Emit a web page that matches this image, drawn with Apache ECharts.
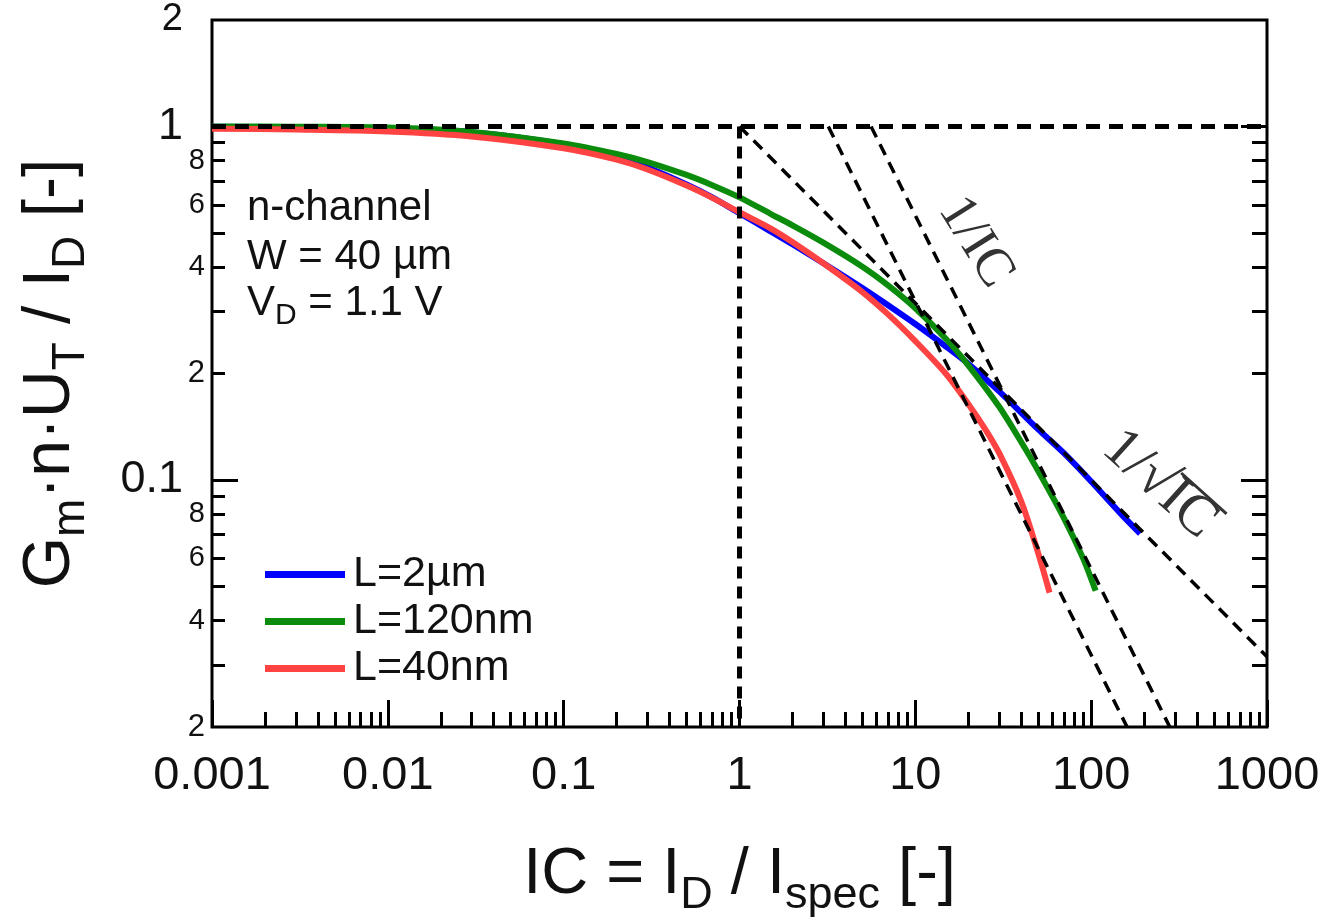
<!DOCTYPE html>
<html><head><meta charset="utf-8">
<script src="https://cdn.jsdelivr.net/npm/echarts@6/dist/echarts.min.js"></script>
<style>html,body{margin:0;padding:0;background:#fff}#c{width:1325px;height:923px}</style>
</head><body><div id="c"></div>
<script>
// ---- axis ticks / labels ----
const xTickLabels = [0.001, 0.01, 0.1, 1, 10, 100, 1000];
const xMinorTicks = [0.002,0.003,0.004,0.005,0.006,0.007,0.008,0.009,
                     0.02,0.03,0.04,0.05,0.06,0.07,0.08,0.09,
                     0.2,0.3,0.4,0.5,0.6,0.7,0.8,0.9,
                     2,3,4,5,6,7,8,9,
                     20,30,40,50,60,70,80,90,
                     200,300,400,500,600,700,800,900];
const yTickLabels = [0.02, 0.04, 0.06, 0.08, 0.1, 0.2, 0.4, 0.6, 0.8, 1, 2];
const yMajorTicks = [0.1, 1];
const yMinorTicks = [0.03,0.04,0.05,0.06,0.07,0.08,0.09,0.2,0.3,0.4,0.5,0.6,0.7,0.8,0.9];

// ---- series data (IC, Gm*n*UT/ID) ----
const seriesNames = ['L=2µm', 'L=120nm', 'L=40nm'];
const blueIC = [0.001, 0.003, 0.01, 0.03, 0.1, 0.2, 0.3, 0.5, 0.7, 1, 1.5, 2, 3, 5, 7, 10, 15, 20, 30, 50, 70, 100, 150, 190];
const blueG  = [0.998, 0.995, 0.987, 0.963, 0.890, 0.815, 0.765, 0.685, 0.630, 0.568, 0.505, 0.464, 0.410, 0.349, 0.312, 0.276, 0.238, 0.213, 0.178, 0.139, 0.119, 0.099, 0.0795, 0.0705];
const greenIC = [0.001, 0.003, 0.01, 0.03, 0.1, 0.2, 0.3, 0.5, 0.7, 1, 1.5, 2, 3, 5, 7, 10, 15, 20, 30, 40, 50, 70, 90, 106];
const greenG  = [1.0, 0.998, 0.993, 0.965, 0.895, 0.836, 0.793, 0.729, 0.682, 0.630, 0.566, 0.525, 0.469, 0.401, 0.355, 0.306, 0.250, 0.211, 0.161, 0.128, 0.106, 0.078, 0.060, 0.0486];
const redIC = [0.001, 0.003, 0.01, 0.03, 0.1, 0.2, 0.3, 0.5, 0.7, 1, 1.5, 2, 3, 5, 7, 10, 15, 20, 25, 30, 40, 50, 58];
const redG  = [0.985, 0.980, 0.968, 0.937, 0.867, 0.805, 0.755, 0.680, 0.628, 0.572, 0.515, 0.471, 0.410, 0.340, 0.294, 0.247, 0.199, 0.164, 0.139, 0.119, 0.087, 0.062, 0.048];

// ---- dashed reference lines ----
const refHorizontal = [[0.001, 1], [1000, 1]];
const refVertical   = [[1, 1], [1, 0.02]];
const refSqrt       = [[1, 1], [1000, 0.0316]];
const refInv1       = [[3.2, 1], [160, 0.02]];
const refInv2       = [[5.6, 1], [280, 0.02]];

const FONT = '"Liberation Sans", Arial, sans-serif';
const SERIF = '"Liberation Serif", "DejaVu Serif", serif';
const TXT = '#111';
const zip = (xs, ys) => xs.map((x, i) => [x, ys[i]]);
const fmt = v => String(Number(Number(v).toPrecision(3)));

const chart = echarts.init(document.getElementById('c'), null, {renderer: 'canvas'});

const tickStyle = {color: '#000', width: 3};
const baseX = {type: 'log', min: 0.001, max: 1000, logBase: 10, splitLine: {show: false},
  axisLine: {show: false}, axisLabel: {show: false}, axisTick: {show: false}, minorTick: {show: false}};
const baseY = {type: 'log', min: 0.02, max: 2, logBase: 10, splitLine: {show: false},
  axisLine: {show: false}, axisLabel: {show: false}, axisTick: {show: false}, minorTick: {show: false}};

const subRich = (size) => ({fontSize: size, fontFamily: FONT, verticalAlign: 'bottom', color: TXT});

const curve = (name, data, color, z) => ({
  name, type: 'line', data, smooth: 0.3, showSymbol: false,
  lineStyle: {color, width: 6}, itemStyle: {color}, z
});
const dashed = (name, data, width, dash) => ({
  name, type: 'line', data, showSymbol: false, silent: true,
  lineStyle: {color: '#000', width, type: dash}, z: 6
});

const option = {
  animation: false,
  backgroundColor: '#fff',
  grid: {left: 207, right: 58, top: 20, bottom: 196, show: true, borderColor: '#000', borderWidth: 3, backgroundColor: 'transparent'},
  xAxis: [
    Object.assign({}, baseX, {
      position: 'bottom',
      axisTick: {show: true, inside: true, length: 27, customValues: xTickLabels, lineStyle: tickStyle},
      axisLabel: {show: true, customValues: xTickLabels, margin: 26, fontSize: 47, fontFamily: FONT, color: TXT, formatter: v => fmt(v)},
      name: 'IC = I{sub|D} / I{sub|spec} [-]', nameLocation: 'middle', nameGap: 105,
      nameTextStyle: {fontSize: 65, fontFamily: FONT, color: TXT, lineHeight: 86, rich: {sub: subRich(45)}}
    }),
    Object.assign({}, baseX, {
      position: 'bottom',
      axisTick: {show: true, inside: true, length: 15, customValues: xMinorTicks, lineStyle: tickStyle}
    })
  ],
  yAxis: [
    Object.assign({}, baseY, {
      position: 'left',
      axisTick: {show: true, inside: true, length: 26, customValues: yMajorTicks, lineStyle: tickStyle},
      axisLabel: {show: true, customValues: yTickLabels, margin: 7, color: TXT, fontFamily: FONT,
        formatter: v => {
          const s = fmt(v);
          if (s === '1' || s === '0.1') return '{big|' + s + '}';
          if (s === '2') return '{top|2}';
          const lead = s.replace(/^0\.0*/, '');
          return lead === '2' ? '{two|2}' : '{small|' + lead + '}';
        },
        rich: {
          big: {fontSize: 45, fontFamily: FONT, color: TXT, padding: [0, 22, 0, 0]},
          top: {fontSize: 38, fontFamily: FONT, color: TXT, padding: [0, 22, 0, 0]},
          small: {fontSize: 29, fontFamily: FONT, color: TXT},
          two: {fontSize: 31, fontFamily: FONT, color: TXT}
        }},
      name: 'G{sub|m}·n·U{sub|T} / I{sub|D} [-]', nameLocation: 'middle', nameGap: 118, nameRotate: 90,
      nameTextStyle: {fontSize: 66, fontFamily: FONT, color: TXT, lineHeight: 86, rich: {sub: subRich(46)}}
    }),
    Object.assign({}, baseY, {
      position: 'left',
      axisTick: {show: true, inside: true, length: 13, customValues: yMinorTicks, lineStyle: tickStyle}
    }),
    Object.assign({}, baseY, {
      position: 'right',
      axisTick: {show: true, inside: true, length: 26, customValues: yMajorTicks, lineStyle: tickStyle}
    }),
    Object.assign({}, baseY, {
      position: 'right',
      axisTick: {show: true, inside: true, length: 15, customValues: yMinorTicks, lineStyle: tickStyle}
    })
  ],
  legend: {
    data: seriesNames, orient: 'vertical', left: 265, top: 553, padding: 0, itemWidth: 80, itemHeight: 7, itemGap: 4,
    icon: 'rect', textStyle: {fontSize: 43, fontFamily: FONT, color: TXT, padding: [0, 0, 0, 3]}
  },
  series: [
    curve(seriesNames[0], zip(blueIC, blueG), '#0000ff', 2),
    curve(seriesNames[1], zip(greenIC, greenG), '#0c8c0c', 3),
    curve(seriesNames[2], zip(redIC, redG), '#ff4242', 4),
    dashed('ref-h', refHorizontal, 5, [14, 9]),
    dashed('ref-v', refVertical, 5, [12, 8]),
    dashed('ref-sqrt', refSqrt, 3.5, [12, 8]),
    dashed('ref-inv1', refInv1, 3.5, [12, 8]),
    dashed('ref-inv2', refInv2, 3.5, [12, 8])
  ]
};
chart.setOption(option);

// ---- annotations ----
const p1 = chart.convertToPixel({xAxisIndex: 0, yAxisIndex: 0}, [22, 0.47]);
const p2 = chart.convertToPixel({xAxisIndex: 0, yAxisIndex: 0}, [245, 0.097]);
const FS = 54, FS2 = 57;
const ctx = document.createElement('canvas').getContext('2d');
ctx.font = FS2 + 'px ' + SERIF;
const wRad = ctx.measureText('1/√').width;
const wAll = ctx.measureText('1/√IC').width;

const infoStyle = {fontSize: 42, fontFamily: FONT, fill: TXT, verticalAlign: 'middle'};
chart.setOption({
  graphic: [
    {type: 'text', x: 247, y: 208, style: Object.assign({text: 'n-channel'}, infoStyle)},
    {type: 'text', x: 247, y: 257, style: Object.assign({text: 'W = 40 µm'}, infoStyle)},
    {type: 'text', x: 247, y: 303, style: Object.assign({text: 'V{s|D} = 1.1 V', lineHeight: 56,
      rich: {s: {fontSize: 30, fontFamily: FONT, verticalAlign: 'bottom', fill: TXT}}}, infoStyle)},
    {type: 'text', x: p1[0], y: p1[1], rotation: -58 * Math.PI / 180,
      style: {text: '1/IC', fontSize: FS, fontFamily: SERIF, fill: '#333', align: 'center', verticalAlign: 'middle'}},
    {type: 'group', x: p2[0], y: p2[1], rotation: -42 * Math.PI / 180, children: [
      {type: 'text', x: -wAll / 2, y: 0, style: {text: '1/√IC', fontSize: FS2, fontFamily: SERIF, fill: '#333', align: 'left', verticalAlign: 'middle'}},
      {type: 'line', shape: {x1: -wAll / 2 + wRad - 1, y1: -0.405 * FS2, x2: wAll / 2 + 3, y2: -0.405 * FS2}, style: {stroke: '#333', lineWidth: 3}}
    ]}
  ]
});
</script></body></html>
